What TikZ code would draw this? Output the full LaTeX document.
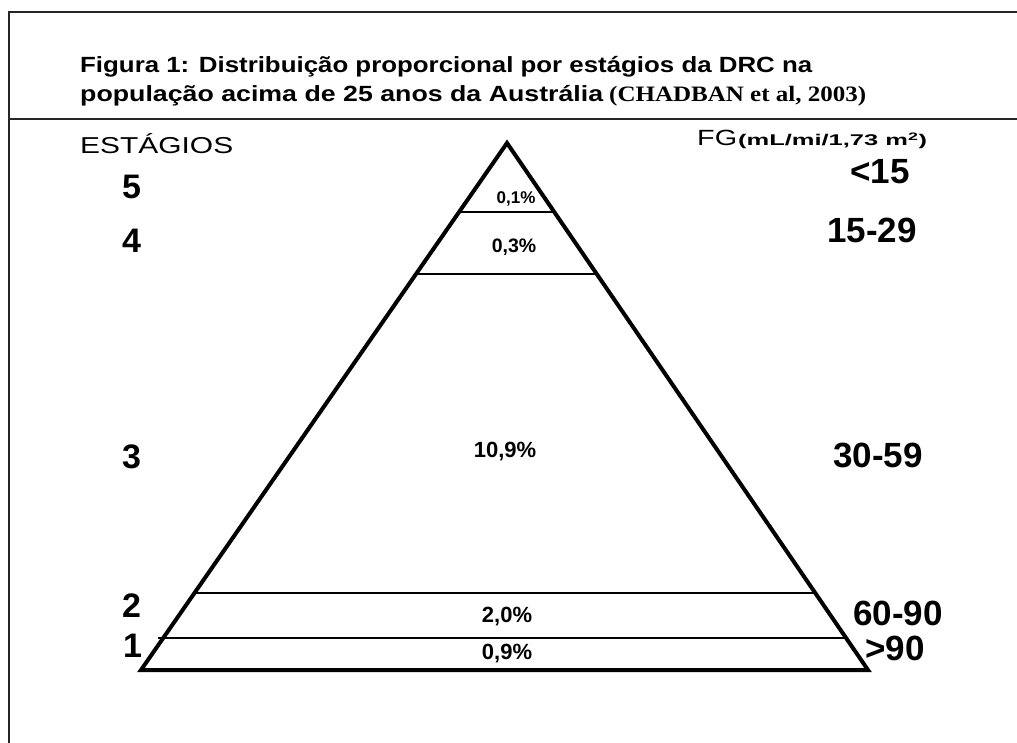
\documentclass[tikz,border=0pt]{standalone}
\usepackage{fontspec}
\setmainfont{Liberation Sans}
\newfontfamily\refserif{Liberation Serif}
\usetikzlibrary{calc}

% stretch a text to a given width, keeping its height
\newcommand{\stretchto}[2]{\resizebox{#1}{\height}{#2}}

\begin{document}
\begin{tikzpicture}[
    x=1pt, y=-1pt,
    % Node styles
    title/.style={anchor=base west, inner sep=0pt, font=\fontsize{22}{22}\selectfont\bfseries},
    head/.style={anchor=base west, inner sep=0pt, font=\fontsize{23}{23}\selectfont},
    stage/.style={anchor=base west, inner sep=0pt, font=\fontsize{34}{34}\selectfont\bfseries},
    rate/.style={anchor=base west, inner sep=0pt, font=\fontsize{35}{35}\selectfont\bfseries},
    share/.style={anchor=base, inner sep=0pt, font=\fontsize{22}{22}\selectfont\bfseries},
    frame/.style={line width=1.3pt, color=black!85},
    layer/.style={line width=1.9pt},
    pyramid/.style={line width=4pt, line join=miter}
]
\useasboundingbox (0,0) rectangle (1017,743);

% Frame
\draw[frame] (1017,12) -- (9,12) -- (9,743);
\draw[frame] (9,119) -- (1017,119);

% Title
\node[title] (title1) at (80,73) {\stretchto{732pt}{Figura 1: Distribuição proporcional por estágios da DRC na}};
\node[title] (title2) at (80,102) {\stretchto{523pt}{população acima de 25 anos da Austrália}};
\node[title, font=\fontsize{22}{22}\selectfont\bfseries\refserif] (ref) at (609,102) {\stretchto{257pt}{(CHADBAN et al, 2003)}};

% Column heads
\node[head] (stages) at (80,154) {\stretchto{153pt}{ESTÁGIOS}};
\node[head, font=\fontsize{22}{22}\selectfont] (fg) at (697,146) {\stretchto{40pt}{FG}};
\node[head, font=\fontsize{15.5}{15.5}\selectfont\bfseries] (unit) at (738,146) {\stretchto{189pt}{(mL/mi/1,73 m\textsuperscript{2})}};

% Pyramid
\coordinate (apex) at (507,143);
\coordinate (bl) at (141,670);
\coordinate (br) at (868,670);
\draw[pyramid] (apex) -- (bl) -- (br) -- cycle;

% Layer borders
\coordinate (l45) at ($(apex)!0.131!(bl)$);
\coordinate (r45) at ($(apex)!0.131!(br)$);
\coordinate (l34) at ($(apex)!0.2486!(bl)$);
\coordinate (r34) at ($(apex)!0.2486!(br)$);
\coordinate (l23) at ($(apex)!0.854!(bl)$);
\coordinate (r23) at ($(apex)!0.854!(br)$);
\coordinate (l12) at ($(apex)!0.939!(bl)+(-5,0)$);
\coordinate (r12) at ($(apex)!0.939!(br)+(2,0)$);
\draw[layer] (l45) -- (r45);
\draw[layer] (l34) -- (r34);
\draw[layer] (l23) -- (r23);
\draw[layer] (l12) -- (r12);

% Shares
\node[share, font=\fontsize{17}{17}\selectfont\bfseries] (p5) at (516,204) {0,1\%};
\node[share, font=\fontsize{19.5}{19.5}\selectfont\bfseries] (p4) at (514,253) {0,3\%};
\node[share] (p3) at (505,457) {10,9\%};
\node[share] (p2) at (507,622) {2,0\%};
\node[share] (p1) at (507,659) {0,9\%};

% Stages
\node[stage] (s5) at (122,199) {5};
\node[stage] (s4) at (122,253) {4};
\node[stage] (s3) at (122,468) {3};
\node[stage] (s2) at (122,617) {2};
\node[stage] (s1) at (123,657) {1};

% Filtration rates
\node[rate] (g5) at (850,184) {<15};
\node[rate] (g4) at (827,243) {15-29};
\node[rate] (g3) at (833,467) {30-59};
\node[rate] (g2) at (853,625) {60-90};
\node[rate] (g1) at (865,660) {>90};

\end{tikzpicture}
\end{document}
